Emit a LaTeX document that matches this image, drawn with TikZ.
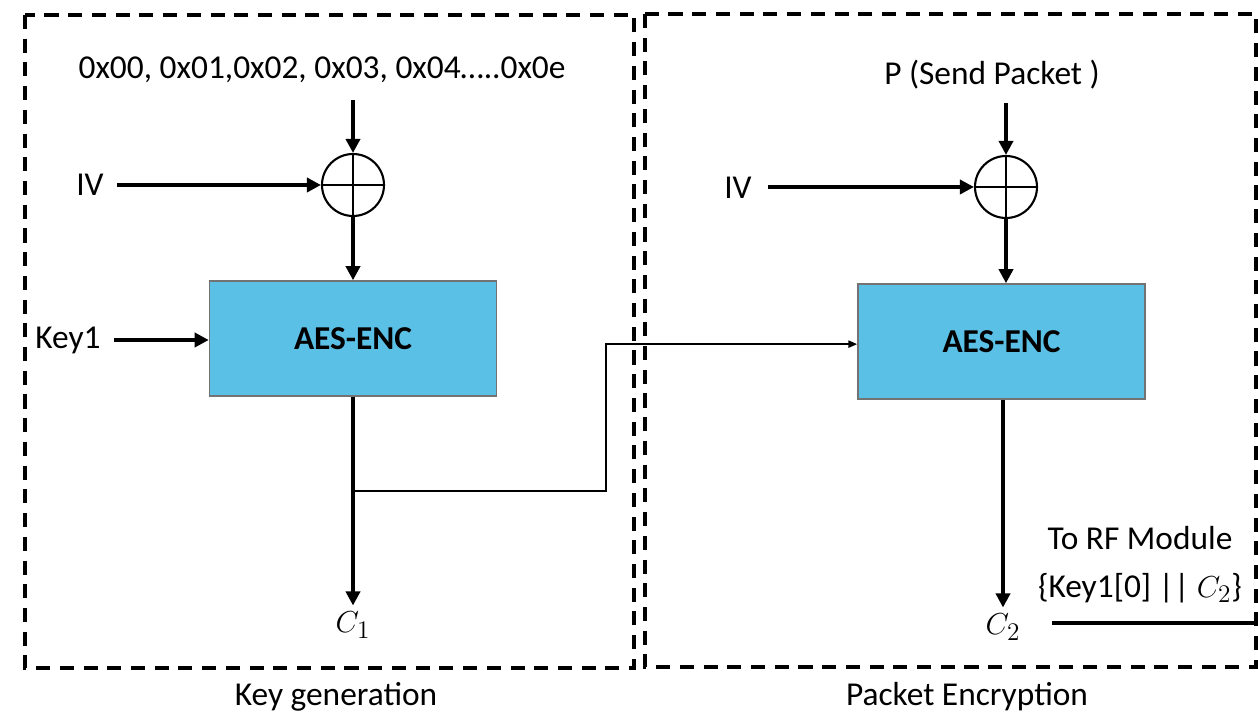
\documentclass[tikz,border=0pt]{standalone}
\usepackage{fontspec}
\setmainfont{Carlito}
\usetikzlibrary{arrows.meta}
\definecolor{encblue}{HTML}{5BC0E6}

\begin{document}
\begin{tikzpicture}[x=0.02cm,y=-0.02cm,
  font=\fontsize{19}{22}\selectfont,
  flow/.style={line width=2.2pt,-{Triangle[length=8pt,width=8pt]}},
  link/.style={line width=1.1pt},
  frame/.style={line width=1.8pt,dash pattern=on 8pt off 5.5pt},
  enc/.style={draw=black!55,line width=0.9pt,fill=encblue,minimum width=5.74cm,minimum height=2.3cm,font=\fontsize{19}{22}\selectfont\bfseries},
  xor/.style={circle,draw,line width=1.2pt,minimum size=1.24cm,inner sep=0pt}]
\useasboundingbox (0,0) rectangle (1258,715);
\draw[frame] (25,15) rectangle (634,668);
\draw[frame] (645,14) rectangle (1256,667);

% key generation
\node (ctr) at (322,70) {0x00, 0x01,0x02, 0x03, 0x04…..0x0e};
\coordinate (ctrin) at (353,100);
\node[xor] (xorA) at (353,185) {};
\draw[line width=1.2pt] (xorA.north) -- (xorA.south) (xorA.west) -- (xorA.east);
\node (ivA) at (90,185) {IV};
\node (keyA) at (68,340) {Key1};
\node[enc] (encA) at (353,338.5) {AES-ENC};
\node (cA) at (353,625) {$C_1$};
\draw[flow] (ctrin) -- (xorA.north);
\draw[flow] ([xshift=4pt]ivA.east) -- (xorA.west);
\draw[flow] (xorA.south) -- (encA.north);
\draw[flow] ([xshift=4pt]keyA.east) -- (keyA.east -| encA.west);
\draw[flow] (encA.south) -- (cA.north);

% packet encryption
\node (pkt) at (992,75) {P (Send Packet )};
\coordinate (pktin) at (1006,103);
\node[xor] (xorB) at (1006,187) {};
\draw[line width=1.2pt] (xorB.north) -- (xorB.south) (xorB.west) -- (xorB.east);
\node (ivB) at (738,188) {IV};
\coordinate (ivBout) at (768,187);
\node[enc] (encB) at (1001.5,341.5) {AES-ENC};
\node (cB) at (1003,627) {$C_2$};
\draw[flow] (pktin) -- (xorB.north);
\draw[flow] (ivBout) -- (xorB.west);
\draw[flow] (xorB.south) -- (xorB.south |- encB.north);
\draw[flow] (encB.south -| cB.north) -- (cB.north);

% key passed on
\coordinate (tap) at (353,491);
\draw[link,-{Triangle[length=5pt,width=4pt]}] (tap) -- (606,491) |- ([yshift=-1.5pt]encB.west);

\node (rf) at (1140,538) {To RF Module};
\node (rfdata) at (1140,588) {\{Key1[0] || $C_2$\}};
\coordinate (rfout) at (1258,623);
\draw[line width=2.2pt] (1052,623) -- (rfout);

\node (lblA) at (336,697) {Key generation};
\node (lblB) at (967,697) {Packet Encryption};
\end{tikzpicture}
\end{document}
